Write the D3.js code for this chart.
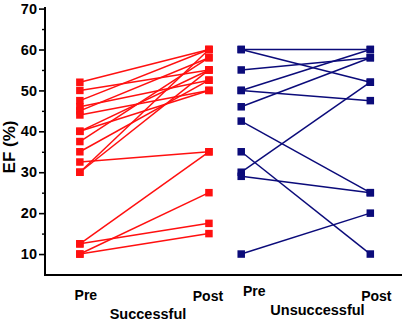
<!DOCTYPE html>
<html>
<head>
<meta charset="utf-8">
<script src="https://cdn.jsdelivr.net/npm/d3@7"></script>
<style>
  html, body { margin: 0; padding: 0; background: #fff; }
  svg { display: block; }
  text { font-family: "Liberation Sans", Arial, sans-serif; font-weight: bold; fill: #000; }
</style>
</head>
<body>
<svg id="chart" width="405" height="321"></svg>
<script>
// Time points (x positions on a shared numeric axis)
const timePoints = ["Pre", "Post", "Pre", "Post"];
const timeX = [1, 2, 2.25, 3.25];

// Group names
const groups = ["Successful", "Unsuccessful"];

// Successful group: paired EF values (Pre -> Post)
const successPre  = [52, 50, 47.5, 46, 45, 44, 40, 40, 37.5, 35, 32.5, 30, 30, 12.5, 12.5, 10, 10];
const successPost = [60, 55, 60, 52.5, 58, 50, 55, 50, 58, 52.5, 35, 60, 55, 35, 17.5, 25, 15];

// Unsuccessful group: paired EF values (Pre -> Post)
const failPre  = [60, 60, 55, 50, 50, 46, 42.5, 35, 30, 29, 10];
const failPost = [60, 52, 58, 60, 47.5, 58, 25, 10, 52, 25, 20];

// Y axis ticks
const yMajorTicks = [10, 20, 30, 40, 50, 60, 70];
const yMinorTicks = [15, 25, 35, 45, 55, 65];

const colors = { success: "#ff1010", fail: "#0b0b7a" };

const svg = d3.select("#chart");
const axisLeft = 45, axisRight = 402, axisBottom = 275;

const x = d3.scaleLinear().domain([0.73, 3.48]).range([axisLeft, 400]);
const y = d3.scaleLinear().domain([5, 70]).range([274.5, 8.6]);

// Paired lines + markers for one group
function drawGroup(pre, post, xi, xj, color) {
  const g = svg.append("g");
  const pairs = pre.map((v, i) => ({ a: v, b: post[i] }));
  g.selectAll("line.pair").data(pairs).enter().append("line")
    .attr("class", "pair")
    .attr("x1", x(timeX[xi])).attr("y1", d => y(d.a))
    .attr("x2", x(timeX[xj])).attr("y2", d => y(d.b))
    .attr("stroke", color).attr("stroke-width", 1.5);
  const s = 7.5;
  g.selectAll("rect.pre").data(pre).enter().append("rect")
    .attr("x", x(timeX[xi]) - s / 2).attr("y", d => y(d) - s / 2)
    .attr("width", s).attr("height", s).attr("fill", color);
  g.selectAll("rect.post").data(post).enter().append("rect")
    .attr("x", x(timeX[xj]) - s / 2).attr("y", d => y(d) - s / 2)
    .attr("width", s).attr("height", s).attr("fill", color);
}

drawGroup(successPre, successPost, 0, 1, colors.success);
drawGroup(failPre, failPost, 2, 3, colors.fail);

// Y axis with major and minor ticks
const yAxis = d3.axisLeft(y).tickValues(yMajorTicks).tickSize(6).tickPadding(2).tickFormat(d3.format("d"));
const yg = svg.append("g").attr("transform", `translate(${axisLeft},0)`).call(yAxis);
yg.select(".domain").remove();
yg.selectAll(".tick line").attr("stroke", "#000").attr("stroke-width", 1.6);
yg.selectAll(".tick text").attr("font-size", 14.5).attr("font-family", "Liberation Sans, Arial, sans-serif").attr("font-weight", "bold");
const ymg = svg.append("g").attr("transform", `translate(${axisLeft},0)`)
  .call(d3.axisLeft(y).tickValues(yMinorTicks).tickSize(3).tickFormat(""));
ymg.select(".domain").remove();
ymg.selectAll(".tick line").attr("stroke", "#000").attr("stroke-width", 1.4);

// Axis lines
svg.append("line").attr("x1", axisLeft).attr("x2", axisLeft)
  .attr("y1", y(70) - 1.5).attr("y2", axisBottom + 1)
  .attr("stroke", "#000").attr("stroke-width", 2);
svg.append("line").attr("x1", axisLeft - 1).attr("x2", axisRight)
  .attr("y1", axisBottom).attr("y2", axisBottom)
  .attr("stroke", "#000").attr("stroke-width", 2);

// Y axis title
svg.append("text")
  .attr("transform", `translate(15,147) rotate(-90)`)
  .attr("text-anchor", "middle")
  .attr("font-size", 17)
  .text("EF (%)");

// Time point labels
const labelOffsets = [6, -1, 13, 6];
const labelY = [300, 300.5, 296, 300.5];
svg.selectAll("text.tp").data(timePoints).enter().append("text")
  .attr("class", "tp")
  .attr("x", (d, i) => x(timeX[i]) + labelOffsets[i])
  .attr("y", (d, i) => labelY[i])
  .attr("text-anchor", "middle")
  .attr("font-size", 14)
  .text(d => d);

// Group labels
const groupCenters = [148, 317.5];
const groupY = [319, 315];
svg.selectAll("text.grp").data(groups).enter().append("text")
  .attr("class", "grp")
  .attr("x", (d, i) => groupCenters[i])
  .attr("y", (d, i) => groupY[i])
  .attr("text-anchor", "middle")
  .attr("font-size", 14.5)
  .text(d => d);
</script>
</body>
</html>
